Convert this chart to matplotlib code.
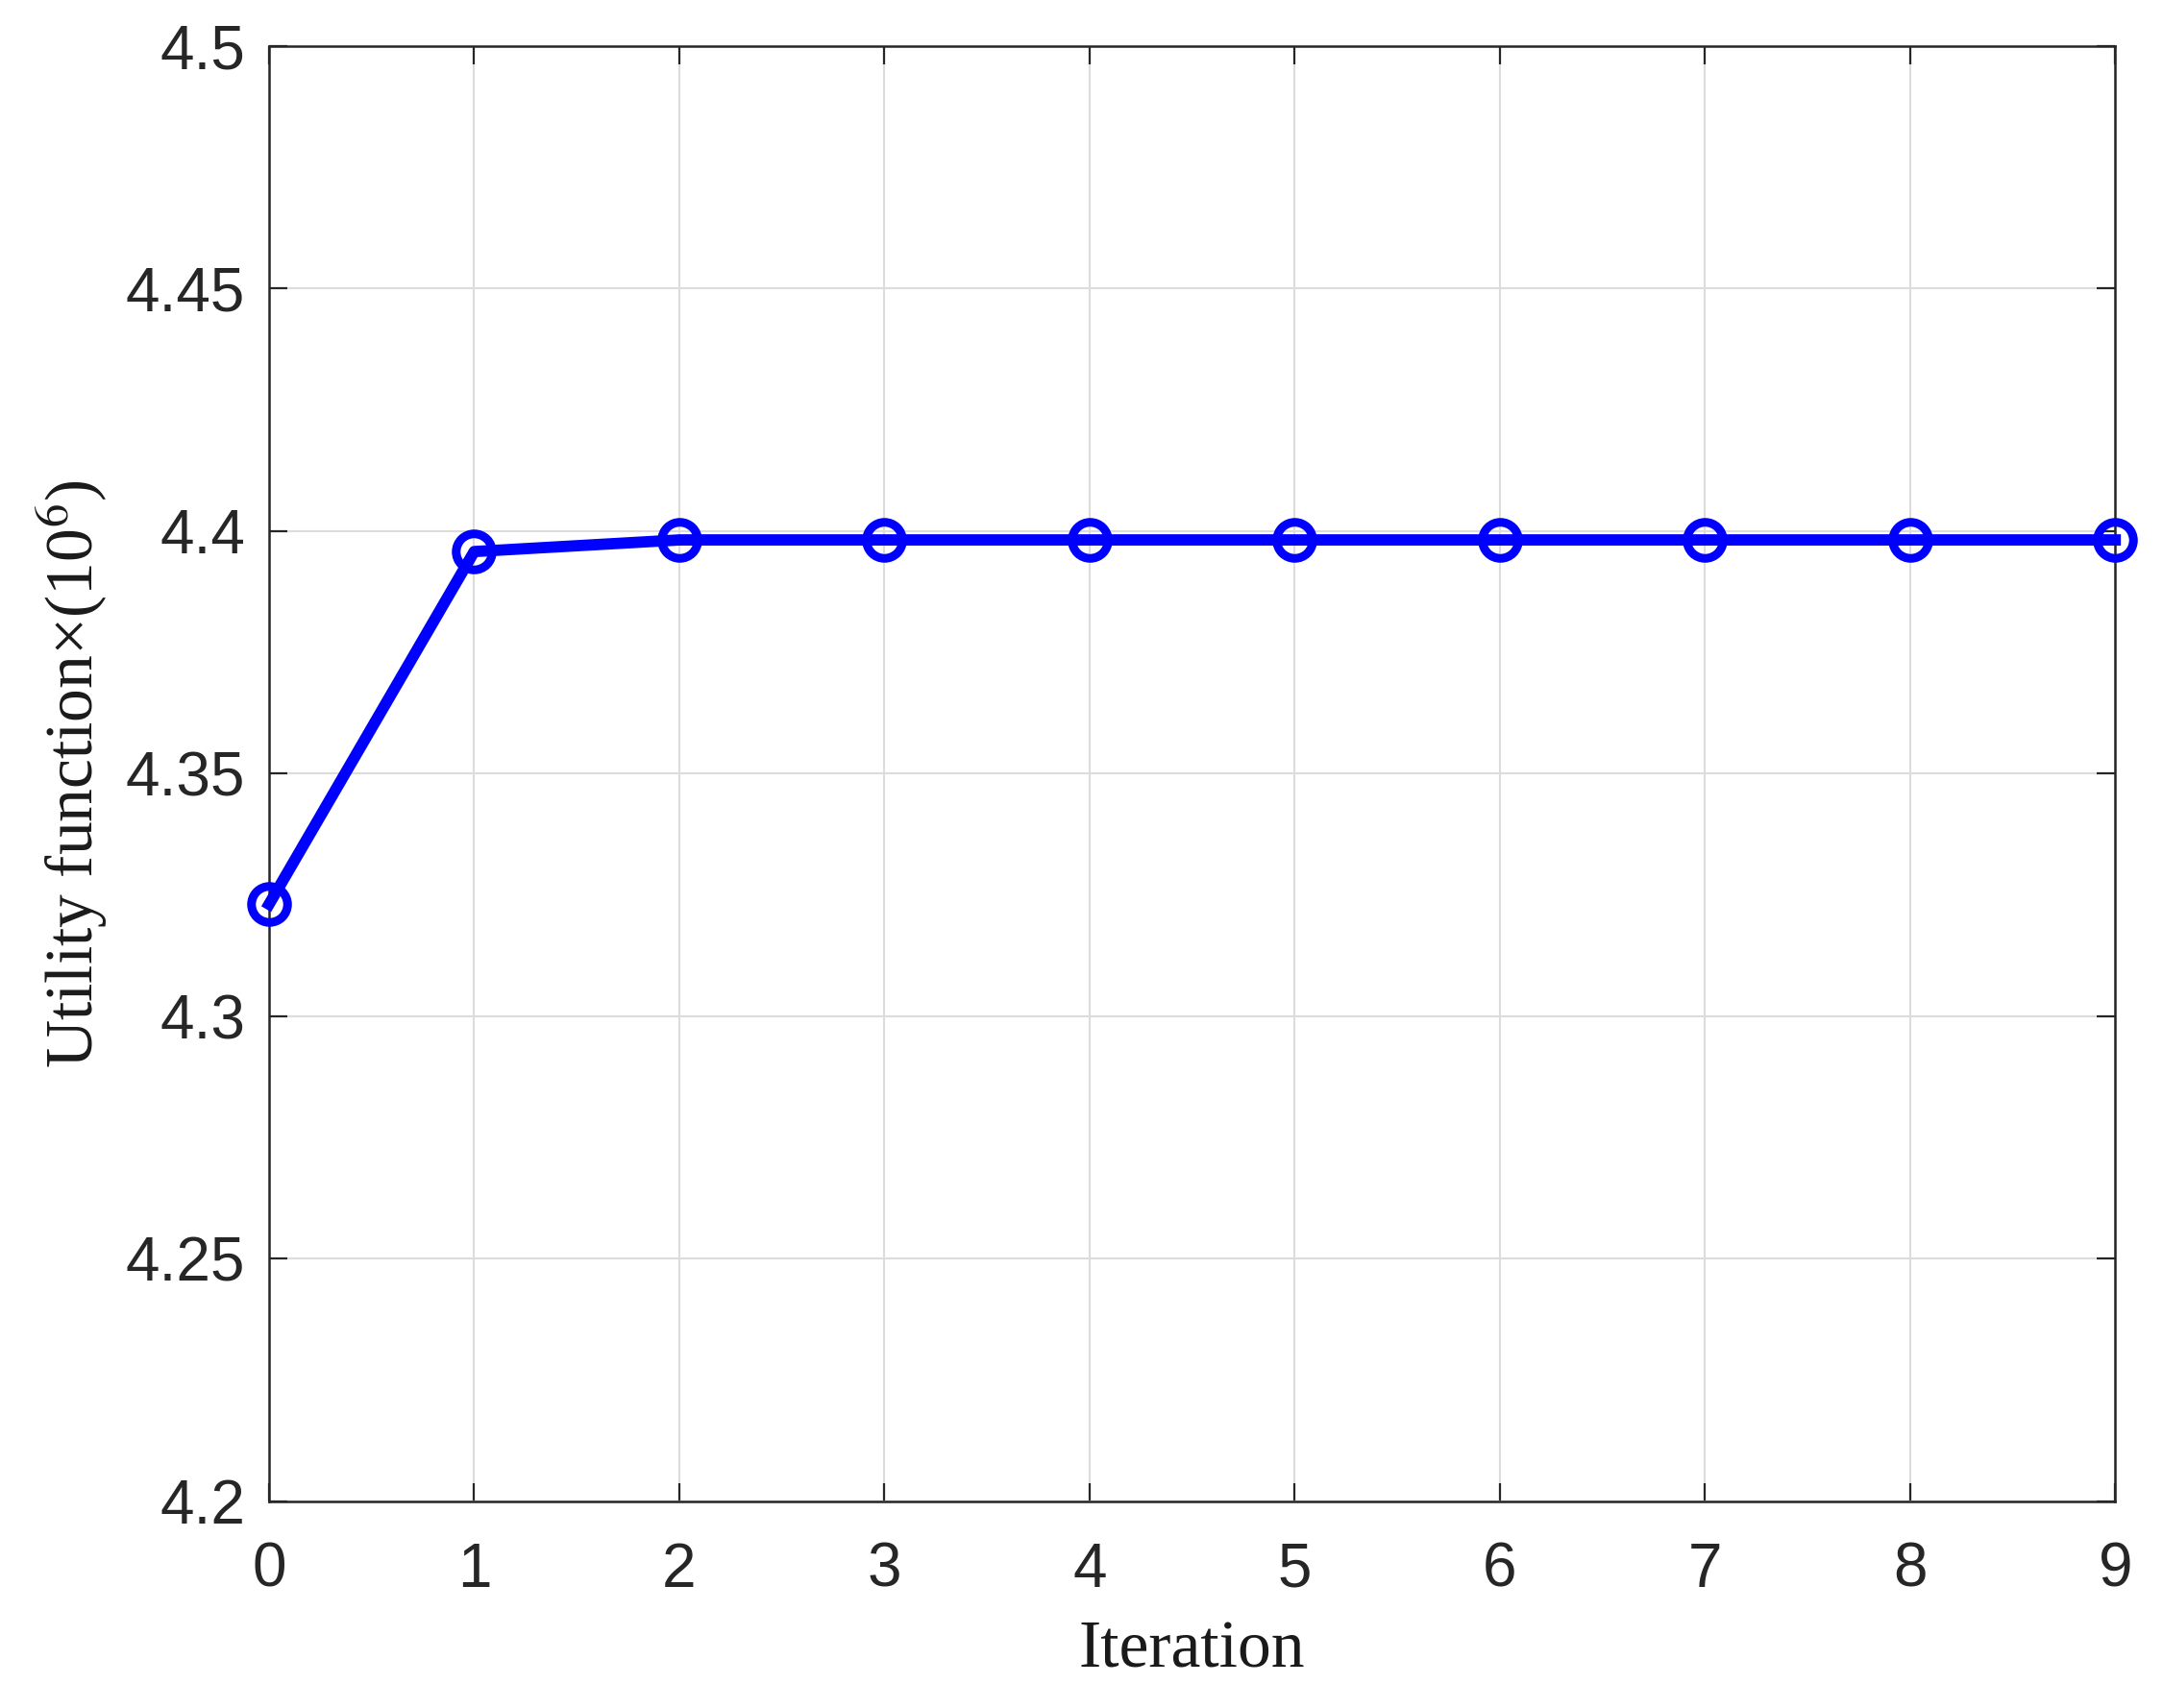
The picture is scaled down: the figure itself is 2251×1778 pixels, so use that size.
import numpy as np
import matplotlib
matplotlib.use('Agg')
import matplotlib.pyplot as plt

plt.rcParams['mathtext.fontset'] = 'stix'

# Utility values (in units of 10^6)
iteration = [0, 1, 2, 3, 4, 5, 6, 7, 8, 9]
utility   = [4.3231, 4.3958, 4.3982, 4.3982, 4.3982, 4.3982, 4.3982, 4.3982, 4.3982, 4.3982]

yticks = [4.2, 4.25, 4.3, 4.35, 4.4, 4.45, 4.5]
yticklabels = ['4.2', '4.25', '4.3', '4.35', '4.4', '4.45', '4.5']

fig = plt.figure(figsize=(22.51, 17.78), dpi=100)
ax = fig.add_axes([0.1244, 0.121, 0.8535, 0.852])

ax.plot(iteration, utility, color='#0000ff', linewidth=8.5,
        marker='o', markersize=27, markeredgewidth=6.5,
        markerfacecolor='none', markeredgecolor='#0000ff', zorder=3, clip_on=False)

ax.set_xlim(0, 9)
ax.set_ylim(4.2, 4.5)
ax.set_xticks(iteration)
ax.set_yticks(yticks)
ax.set_yticklabels(yticklabels)

ax.grid(True, color='#dcdcdc', linewidth=1.5)
ax.set_axisbelow(True)

for s in ax.spines.values():
    s.set_color('#262626')
    s.set_linewidth(1.8)

ax.tick_params(direction='in', length=14, width=1.6, colors='#262626',
               top=True, right=True, labelsize=46)
ax.tick_params(axis='x', pad=30)
ax.tick_params(axis='y', pad=18)
for lab in ax.get_xticklabels() + ax.get_yticklabels():
    lab.set_fontfamily('Liberation Sans')

ax.set_xlabel('Iteration', fontsize=50, family='Liberation Serif', color='#1a1a1a', labelpad=16)
ax.set_ylabel('Utility function\u00d7(10$^{6}$)', fontsize=50, family='Liberation Serif',
              color='#1a1a1a', labelpad=12)

fig.savefig('out.png', dpi=100)
